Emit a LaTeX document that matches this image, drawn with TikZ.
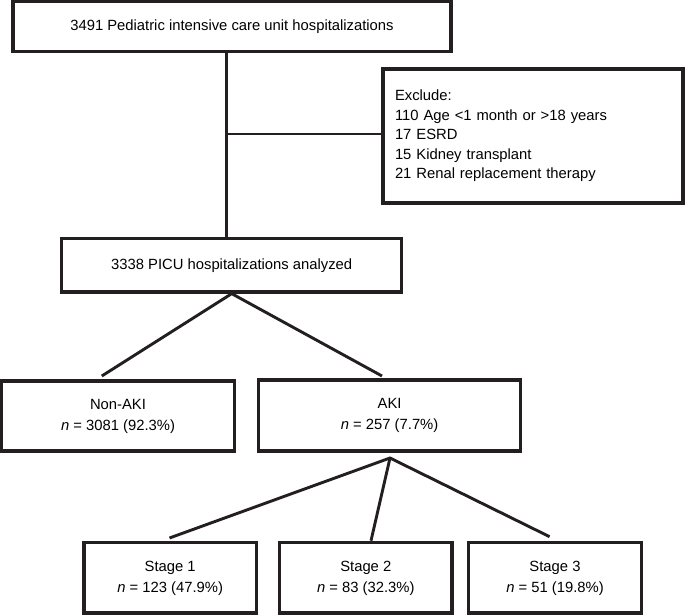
\documentclass[tikz,border=0pt]{standalone}
\usepackage{fontspec}
\setmainfont{Liberation Sans}
\definecolor{ink}{RGB}{35,31,32}
\begin{document}
\begin{tikzpicture}[x=1pt,y=-1pt,
  box/.style={draw=ink, line width=3.2pt, inner sep=0pt, align=center,
    font=\fontsize{14.8}{21}\selectfont, text=black},
  conn/.style={draw=ink, line width=2.9pt}]
\useasboundingbox (0,0) rectangle (685,615);
% boxes
\node[box, minimum width=438pt, minimum height=50pt] (top) at (232,26.5)
  {3491 Pediatric intensive care unit hospitalizations};
\node[box, minimum width=300pt, minimum height=134pt, text width=276pt,
  align=left, inner xsep=12pt, font=\fontsize{14.8}{19.5}\selectfont] (excl) at (533,136)
  {Exclude:\\110 Age <1 month or >18 years\\17 ESRD\\15 Kidney transplant\\21 Renal replacement therapy};
\node[box, minimum width=340pt, minimum height=53.5pt] (picu) at (231.7,265.3)
  {3338 PICU hospitalizations analyzed};
\node[box, minimum width=233pt, minimum height=70pt] (nonaki) at (118,416)
  {Non-AKI\\\textit{n} = 3081 (92.3\%)};
\node[box, minimum width=262pt, minimum height=71pt] (aki) at (389.6,415.5)
  {AKI\\\textit{n} = 257 (7.7\%)};
\node[box, minimum width=172.4pt, minimum height=70.3pt] (s1) at (170.2,577.9)
  {Stage 1\\\textit{n} = 123 (47.9\%)};
\node[box, minimum width=172.4pt, minimum height=70.3pt] (s2) at (365.8,577.9)
  {Stage 2\\\textit{n} = 83 (32.3\%)};
\node[box, minimum width=172.4pt, minimum height=70.3pt] (s3) at (555,577.9)
  {Stage 3\\\textit{n} = 51 (19.8\%)};
% connector points
\coordinate (v) at (226.5,0);
\coordinate (br) at (226.5,134);
\coordinate (nk) at (101.8,376);
\coordinate (ak) at (382,376);
\coordinate (af) at (390,458);
\coordinate (e1) at (169.5,538);
\coordinate (e2) at (371,540.7);
\coordinate (e3) at (549.6,536.7);
% connectors
\draw[conn] (top.south -| v) -- (picu.north -| v);
\draw[conn] (br) -- (br -| excl.west);
\draw[conn] (nk) -- (picu.south) -- (ak);
\draw[conn] (e1) -- (af) -- (e3);
\draw[conn] (af) -- (e2);
\end{tikzpicture}
\end{document}
